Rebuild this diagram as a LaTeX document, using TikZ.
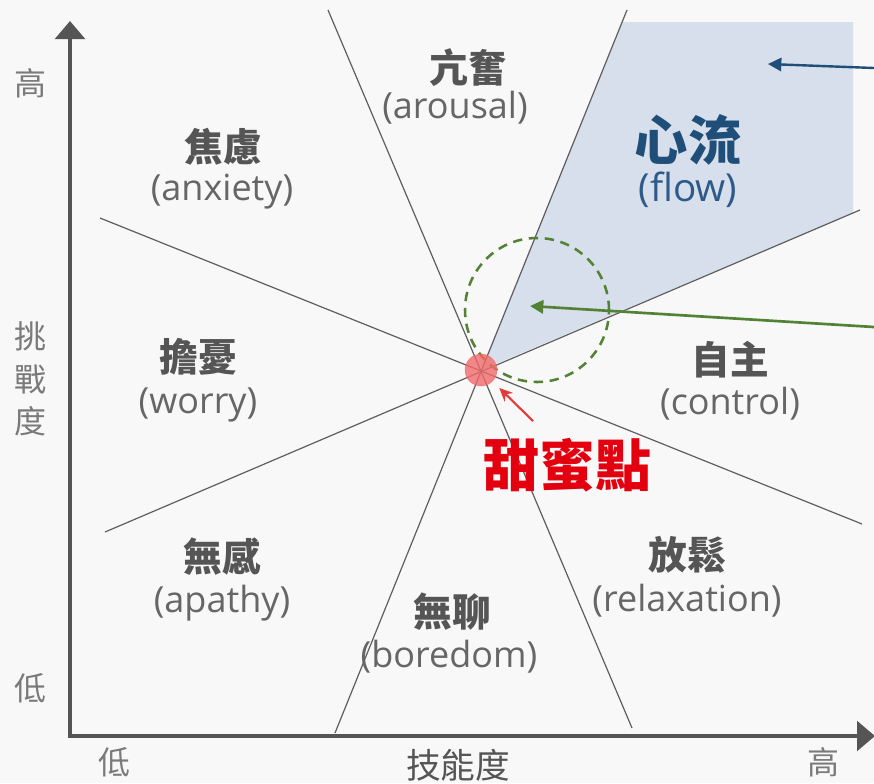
\documentclass[tikz,border=0pt]{standalone}
\usepackage{fontspec}
\newfontfamily\cjk{Noto Sans CJK TC}
\newfontfamily\ensans{Open Sans}
\usetikzlibrary{arrows.meta}
\definecolor{bg}{HTML}{F8F8F8}
\definecolor{linegray}{HTML}{5E5E5E}
\definecolor{axisgray}{HTML}{555555}
\definecolor{zhgray}{HTML}{555555}
\definecolor{engray}{HTML}{666666}
\definecolor{axlabel}{HTML}{7A7A7A}
\definecolor{flowfill}{HTML}{D6DFEB}
\definecolor{flowblue}{HTML}{1F4E79}
\definecolor{flowblue2}{HTML}{2E5A8A}
\definecolor{greenc}{HTML}{548235}
\definecolor{sweetred}{HTML}{E3000F}
\definecolor{dotred}{HTML}{F26B6B}
\definecolor{arrred}{HTML}{E03C3C}
\tikzset{
  sector/.style={draw=linegray, line width=0.9pt},
  axisline/.style={draw=axisgray, line width=3.6pt, {Triangle[length=13.5pt,width=22pt]}-{Triangle[length=13.5pt,width=22pt]}},
  zh/.style={font=\cjk\bfseries\fontsize{29}{31}\selectfont, text=zhgray, inner sep=0pt},
  en/.style={font=\ensans\fontsize{27}{29}\selectfont, text=engray, inner sep=0pt},
  axlab/.style={font=\cjk\fontsize{24}{26}\selectfont, text=axlabel, inner sep=0pt},
  thinarrow/.style={line width=1.8pt, -{Triangle[length=10pt,width=10pt]}},
}
\begin{document}
\begin{tikzpicture}[x=0.75pt,y=-0.75pt]
\fill[bg] (0,0) rectangle (874,783);
\useasboundingbox (0,0) rectangle (874,783);

% centre and sector line ends
\coordinate (C) at (481,370);
\coordinate (L1a) at (328,10);  \coordinate (L1b) at (632,728);
\coordinate (L2a) at (627,10);  \coordinate (L2b) at (335,733);
\coordinate (L3a) at (100,218); \coordinate (L3b) at (862,524);
\coordinate (L4a) at (105,532); \coordinate (L4b) at (860,210);

% flow region
\coordinate (F1) at (622,22);
\coordinate (F2) at (853,22);
\coordinate (F3) at (853,213);
\fill[flowfill] (C) -- (F1) -- (F2) -- (F3) -- cycle;

% sector lines
\draw[sector] (L1a) -- (L1b);
\draw[sector] (L2a) -- (L2b);
\draw[sector] (L3a) -- (L3b);
\draw[sector] (L4a) -- (L4b);

% axes
\coordinate (Ytop) at (70,21);
\coordinate (O) at (70,736);
\coordinate (Xend) at (875,736);
\draw[axisline] (Ytop) -- (O) -- (Xend);

% dashed green circle and sweet spot
\node[circle, draw=greenc, dashed, dash pattern=on 7pt off 5pt, line width=1.9pt, minimum size=108pt, inner sep=0pt] (G) at (537,310) {};
\node[circle, fill=dotred, fill opacity=0.8, draw=dotred!80!red, draw opacity=0.5, minimum size=24pt, inner sep=0pt] (S) at (C) {};

% arrows
\coordinate (bt) at (874,68);  \coordinate (bh) at (768,64);
\draw[thinarrow, draw=flowblue, fill=flowblue] (bt) -- (bh);
\coordinate (gt) at (874,327); \coordinate (gh) at (530,306);
\draw[thinarrow, draw=greenc, fill=greenc, line width=2pt] (gt) -- (gh);
\coordinate (rt) at (533,421);
\draw[draw=arrred, line width=1.6pt, -{Stealth[length=10pt,width=9pt]}, shorten >=7pt] (rt) -- (S);

% labels
\node[zh] (arz) at (468,68) {亢奮};
\node[en] (are) at (455,108) {(arousal)};
\node[zh] (anz) at (223,147) {焦慮};
\node[en] (ane) at (222,192) {(anxiety)};
\node[zh, font=\cjk\bfseries\fontsize{40}{42}\selectfont, text=flowblue] (flz) at (688,140) {心流};
\node[en, font=\ensans\fontsize{29}{31}\selectfont, text=flowblue2] (fle) at (688,190) {(flow)};
\node[zh] (woz) at (198,357) {擔憂};
\node[en] (woe) at (198,405) {(worry)};
\node[zh] (coz) at (730,360) {自主};
\node[en] (coe) at (730,404) {(control)};
\node[zh, font=\cjk\bfseries\fontsize{42}{44}\selectfont, text=sweetred] (sw) at (567,465) {甜蜜點};
\node[zh] (apz) at (222,557) {無感};
\node[en] (ape) at (222,603) {(apathy)};
\node[zh] (rez) at (687,555) {放鬆};
\node[en] (ree) at (687,601) {(relaxation)};
\node[zh] (boz) at (452,612) {無聊};
\node[en] (boe) at (449,657) {(boredom)};

% axis labels
\node[axlab] (yh) at (30,83) {高};
\node[axlab, align=center, font=\cjk\fontsize{24}{32}\selectfont] (yl) at (30,379) {挑\\戰\\度};
\node[axlab] (ylo) at (30,688) {低};
\node[axlab] (xlo) at (114,762) {低};
\node[axlab, font=\cjk\fontsize{26}{28}\selectfont, text=zhgray] (xl) at (458,765) {技能度};
\node[axlab] (xh) at (823,762) {高};
\end{tikzpicture}
\end{document}
